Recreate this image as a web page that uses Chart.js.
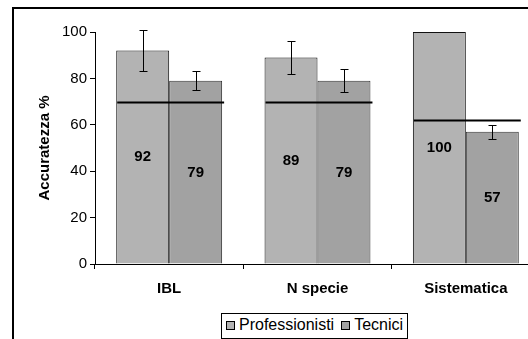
<!DOCTYPE html>
<html>
<head>
<meta charset="utf-8">
<script src="https://cdn.jsdelivr.net/npm/chart.js@4/dist/chart.umd.min.js"></script>
<style>
    html, body { margin: 0; padding: 0; width: 528px; height: 339px; overflow: hidden; background: #fff; }
    #frame { position: absolute; left: 12px; top: 7px; width: 604px; height: 340px; border: 2px solid #000; }
    #legend {
        position: absolute; left: 221px; top: 313px; border: 1px solid #000; background: #fff;
        font: 16px "Liberation Sans", Arial, sans-serif; color: #000; padding: 2px 4px 4px 4px; white-space: nowrap;
    }
    #legend span.box { display: inline-block; width: 7px; height: 7px; border: 1px solid #000; margin-right: 4px; vertical-align: 0px; }
    #legend span.item { margin-right: 7px; }
    #legend span.item:last-child { margin-right: 0; }
</style>
</head>
<body>
<div id="frame"><canvas id="chart"></canvas></div>
<div id="legend"></div>
<script>
(function () {
    "use strict";

    // dati
    const categories = ["IBL", "N specie", "Sistematica"];
    const seriesNames = ["Professionisti", "Tecnici"];
    const professionisti = [92, 89, 100];
    const tecnici = [79, 79, 57];
    const professionistiSd = [9, 7, 0];
    const tecniciSd = [4, 5, 3];
    const mediaLinea = [70, 70, 62];
    const yTicks = [0, 20, 40, 60, 80, 100];

    const colors = ["#b3b3b3", "#a2a2a2"];
    const borders = ["#111", "#333"];
    const FONT = "'Liberation Sans', Arial, sans-serif";

    // legenda
    const legend = document.getElementById("legend");
    seriesNames.forEach((name, i) => {
        const item = document.createElement("span");
        item.className = "item";
        item.innerHTML = `<span class="box" style="background:${colors[i]}"></span>${name}`;
        legend.appendChild(item);
    });

    // barre d'errore, linee e valori
    const overlay = {
        id: "overlay",
        afterDatasetsDraw(chart) {
            const ctx = chart.ctx;
            const y = chart.scales.y;
            const sds = [professionistiSd, tecniciSd];
            const m0 = chart.getDatasetMeta(0);
            const m1 = chart.getDatasetMeta(1);

            ctx.save();
            // linee orizzontali
            ctx.strokeStyle = "#000";
            ctx.lineWidth = 2;
            categories.forEach((c, i) => {
                const b0 = m0.data[i], b1 = m1.data[i];
                const py = Math.round(y.getPixelForValue(mediaLinea[i])) + 0.5;
                ctx.beginPath();
                ctx.moveTo(b0.x - b0.width / 2 + 1, py);
                ctx.lineTo(b1.x + b1.width / 2 + 2, py);
                ctx.stroke();
            });

            // barre d'errore
            ctx.lineWidth = 1;
            [m0, m1].forEach((meta, d) => {
                const vals = chart.data.datasets[d].data;
                meta.data.forEach((bar, i) => {
                    const sd = sds[d][i];
                    if (!sd) return;
                    const x = Math.round(bar.x) + 0.5;
                    const top = Math.round(y.getPixelForValue(vals[i] + sd)) + 0.5;
                    const bot = Math.round(y.getPixelForValue(vals[i] - sd)) + 0.5;
                    ctx.beginPath();
                    ctx.moveTo(x, top); ctx.lineTo(x, bot);
                    ctx.moveTo(x - 4, top); ctx.lineTo(x + 4, top);
                    ctx.moveTo(x - 4, bot); ctx.lineTo(x + 4, bot);
                    ctx.stroke();
                });
            });

            // valori
            ctx.fillStyle = "#000";
            ctx.font = "bold 15px " + FONT;
            ctx.textAlign = "center";
            ctx.textBaseline = "middle";
            [m0, m1].forEach((meta, d) => {
                const vals = chart.data.datasets[d].data;
                meta.data.forEach((bar, i) => {
                    ctx.fillText(String(vals[i]), bar.x, y.getPixelForValue(vals[i] / 2));
                });
            });
            ctx.restore();
        }
    };

    new Chart(document.getElementById("chart"), {
        type: "bar",
        data: {
            labels: categories,
            datasets: [
                { label: seriesNames[0], data: professionisti, backgroundColor: colors[0], borderColor: borders[0], borderWidth: 1 },
                { label: seriesNames[1], data: tecnici, backgroundColor: colors[1], borderColor: borders[1], borderWidth: 1 },
            ],
        },
        options: {
            responsive: true,
            maintainAspectRatio: false,
            animation: false,
            datasets: { bar: { categoryPercentage: 0.714, barPercentage: 1 } },
            layout: { padding: { left: 0, top: 23, right: 78, bottom: 45 } },
            plugins: { legend: { display: false }, tooltip: { enabled: false } },
            scales: {
                x: {
                    offset: true,
                    grid: { offset: true, drawOnChartArea: false, tickLength: 5, color: "#000" },
                    border: { color: "#000" },
                    ticks: { color: "#000", padding: 11, font: { family: FONT, size: 15, weight: "bold" }, maxRotation: 0 },
                    afterFit(scale) { scale.height = 40; },
                },
                y: {
                    min: 0,
                    max: 100,
                    afterBuildTicks(scale) { scale.ticks = yTicks.map(v => ({ value: v })); },
                    grid: { drawOnChartArea: false, tickLength: 5, color: "#000" },
                    border: { color: "#000" },
                    ticks: { color: "#000", padding: 3, font: { family: FONT, size: 15 } },
                    title: { display: true, text: "Accuratezza %", color: "#000", padding: { top: 22, bottom: 0 }, font: { family: FONT, size: 15, weight: "bold" } },
                    afterFit(scale) { scale.width = 81; },
                },
            },
        },
        plugins: [overlay],
    });
})();
</script>
</body>
</html>
